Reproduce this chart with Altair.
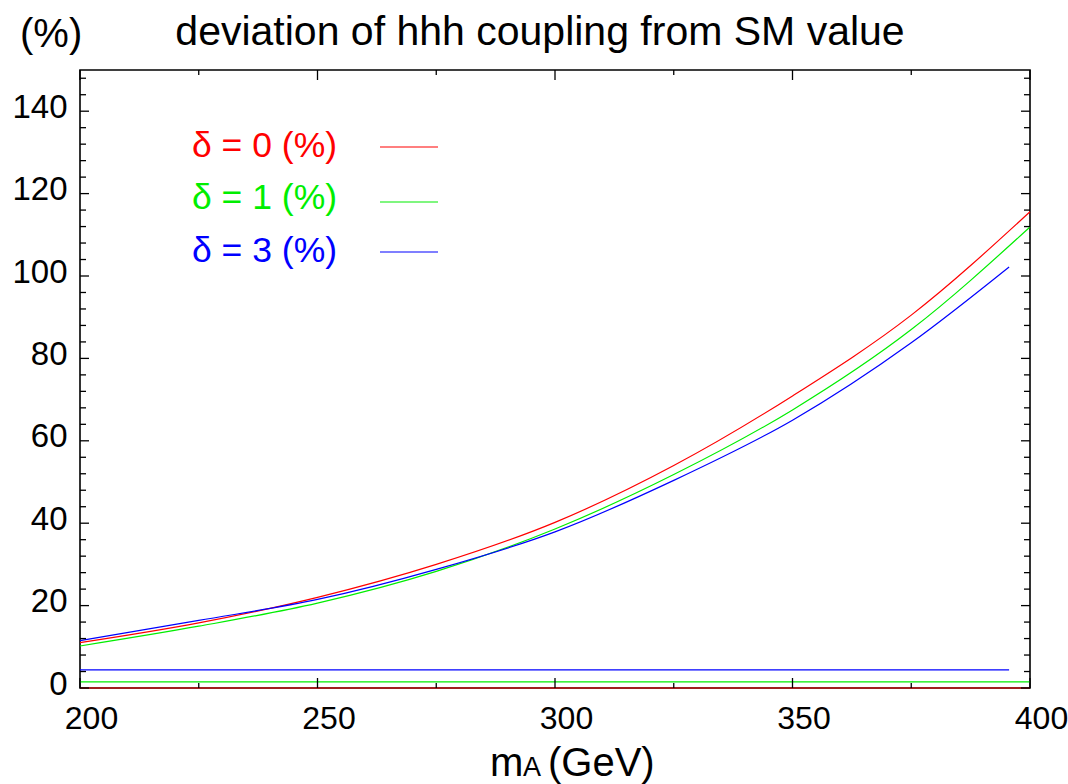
import altair as alt
import pandas as pd

# ---- data ----
mA = [200, 225, 250, 275, 300, 325, 350, 375, 400]
dev_d0 = [11.0, 15.8, 22.0, 30.0, 40.2, 54.0, 70.9, 90.5, 115.6]
dev_d1 = [10.2, 15.0, 20.6, 28.3, 38.6, 51.8, 67.5, 87.0, 111.9]
mA_d3 = [200, 225, 250, 275, 300, 325, 350, 375, 395.6]
dev_d3 = [11.5, 16.4, 21.5, 28.8, 37.9, 50.4, 65.0, 83.8, 102.2]

flat_x_d0 = [200, 400]
flat_x_d1 = [200, 400]
flat_x_d3 = [200, 395.6]
flat_d0 = 0.0
flat_d1 = 1.5
flat_d3 = 4.4

series_names = ["δ = 0 (%)", "δ = 1 (%)", "δ = 3 (%)"]
series_colors = ["#ff0000", "#00ee00", "#0000ff"]

x_major = [200, 250, 300, 350, 400]
x_minor = [225, 275, 325, 375]
y_major = [0, 20, 40, 60, 80, 100, 120, 140]
y_minor = [4, 8, 12, 16, 24, 28, 32, 36, 44, 48, 52, 56, 64, 68, 72, 76,
           84, 88, 92, 96, 104, 108, 112, 116, 124, 128, 132, 136, 144, 148]

FONT = "Liberation Sans"
W, H = 950, 618

rows = []
for name, xs, ys in [(series_names[0], mA, dev_d0),
                     (series_names[1], mA, dev_d1),
                     (series_names[2], mA_d3, dev_d3)]:
    for xv, yv in zip(xs, ys):
        rows.append({"mA": xv, "dev": yv, "series": name, "line": name + " curve"})
for name, xs, yv in [(series_names[0], flat_x_d0, flat_d0),
                     (series_names[1], flat_x_d1, flat_d1),
                     (series_names[2], flat_x_d3, flat_d3)]:
    for xv in xs:
        rows.append({"mA": xv, "dev": yv, "series": name, "line": name + " flat"})
df = pd.DataFrame(rows)

xscale = alt.Scale(domain=[200, 400], nice=False, zero=False)
yscale = alt.Scale(domain=[0, 150], nice=False, zero=False)
cscale = alt.Scale(domain=series_names, range=series_colors)

lines = alt.Chart(df).mark_line(strokeWidth=1.2, interpolate="monotone").encode(
    x=alt.X("mA:Q", scale=xscale,
            axis=alt.Axis(values=x_major, title=None, grid=False, domain=False, ticks=False,
                          tickSize=0, labelFont=FONT, labelFontSize=32, labelColor="black",
                          labelBaseline="alphabetic", labelPadding=40, labelOffset=11,
                          labelFlush=False)),
    y=alt.Y("dev:Q", scale=yscale,
            axis=alt.Axis(values=y_major, title=None, grid=False, domain=False, ticks=False,
                          tickSize=0, labelFont=FONT, labelFontSize=33, labelColor="black",
                          labelPadding=13, labelOffset=-4, labelBaseline="middle",
                          labelFlush=False)),
    color=alt.Color("series:N", scale=cscale, legend=None),
    detail="line:N",
)

# inward ticks on all four sides
def tick_layer(vals, axis, length):
    d = pd.DataFrame({"v": vals})
    c = alt.Chart(d)
    if axis == "x":
        bottom = c.mark_rule(color="black", strokeWidth=1.3).encode(
            x=alt.X("v:Q", scale=xscale), y=alt.value(H), y2=alt.value(H - length))
        top = c.mark_rule(color="black", strokeWidth=1.3).encode(
            x=alt.X("v:Q", scale=xscale), y=alt.value(0), y2=alt.value(length))
        return bottom + top
    left = c.mark_rule(color="black", strokeWidth=1.3).encode(
        y=alt.Y("v:Q", scale=yscale), x=alt.value(0), x2=alt.value(length))
    right = c.mark_rule(color="black", strokeWidth=1.3).encode(
        y=alt.Y("v:Q", scale=yscale), x=alt.value(W), x2=alt.value(W - length))
    return left + right

ticks = (tick_layer(x_major, "x", 10) + tick_layer(x_minor, "x", 5)
         + tick_layer(y_major, "y", 9) + tick_layer(y_minor, "y", 6))

# legend
leg_text_y = [87, 139, 192]
leg_line_y = [77, 132, 182]
legend_layers = []
for i, name in enumerate(series_names):
    sub = pd.DataFrame({"series": [name]})
    legend_layers.append(
        alt.Chart(sub).mark_text(font=FONT, fontSize=35.5, align="left", baseline="alphabetic").encode(
            text="series:N", color=alt.Color("series:N", scale=cscale, legend=None),
            x=alt.value(112), y=alt.value(leg_text_y[i])))
    legend_layers.append(
        alt.Chart(sub).mark_rule(strokeWidth=1.2).encode(
            color=alt.Color("series:N", scale=cscale, legend=None),
            x=alt.value(300), x2=alt.value(358), y=alt.value(leg_line_y[i])))

# titles
def label(txt, x, y, size, align="left"):
    return alt.Chart(pd.DataFrame({"t": [txt]})).mark_text(
        font=FONT, fontSize=size, align=align, baseline="alphabetic", color="black"
    ).encode(text="t:N", x=alt.value(x), y=alt.value(y))

texts = (label("deviation of hhh coupling from SM value", 460, -25, 41, "center")
         + label("(%)", -60, -23, 40)
         + label("m", 410, 706, 40)
         + label("A", 443, 706, 27)
         + label("(GeV)", 468, 706, 40))

chart = alt.layer(lines, ticks, *legend_layers, texts).properties(
    width=W, height=H,
    autosize=alt.AutoSizeParams(type="none"),
    padding={"left": 80, "top": 70, "right": 38, "bottom": 96},
    background="white",
).configure_view(stroke="black", strokeWidth=1.6)

chart.save("out.html", embed_options={"renderer": "svg", "actions": False})
